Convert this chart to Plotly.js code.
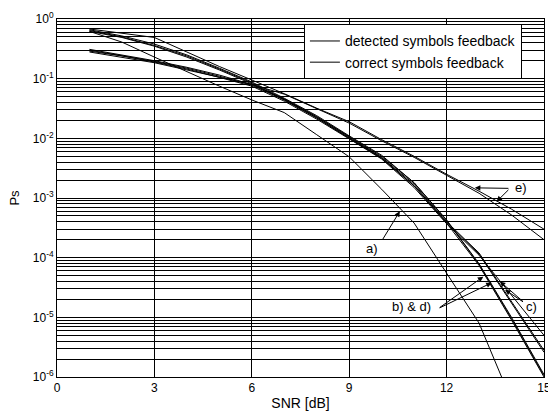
<!DOCTYPE html>
<html>
<head>
<meta charset="utf-8">
<script src="https://cdn.plot.ly/plotly-3.0.1.min.js"></script>
<style>html,body{margin:0;padding:0;background:#fff;overflow:hidden;}#chart{width:548px;height:416px;}</style>
</head>
<body>
<div id="chart"></div>
<script>
// SNR [dB]
var snr = [1,2,3,4,5,6,7,8,9,10,11,12,13,14,15];

// detected symbols feedback
var detB = [0.66,0.52,0.38,0.25,0.15,0.088,0.047,0.024,0.011,0.0052,0.0018,4.3e-4,7.9e-5,1.0e-5,1.1e-6];
var detC = [0.64,0.50,0.36,0.24,0.145,0.085,0.045,0.023,0.0105,0.0048,0.0017,4.0e-4,1.2e-4,1.8e-5,2.8e-6];
var detD = [0.62,0.49,0.35,0.23,0.14,0.082,0.044,0.022,0.010,0.0046,0.0016,3.8e-4,7.4e-5,9.0e-6,1.0e-6];
var detE = [0.68,0.58,0.49,0.28,0.16,0.095,0.056,0.032,0.019,0.0095,0.005,0.0025,0.0013,6.5e-4,3.0e-4];
var detA = [0.62,0.41,0.23,0.13,0.075,0.044,0.027,0.0115,0.0049,0.0014,3.8e-4,5.5e-5,8e-6,4e-7];

// correct symbols feedback
var corB = [0.31,0.25,0.20,0.155,0.115,0.080,0.046,0.023,0.0108,0.005,0.0018,4.2e-4,7.7e-5,9.5e-6,1.05e-6];
var corC = [0.30,0.245,0.195,0.15,0.11,0.078,0.044,0.022,0.0102,0.0047,0.0016,3.9e-4,1.15e-4,1.7e-5,2.6e-6];
var corD = [0.29,0.24,0.19,0.145,0.105,0.075,0.042,0.021,0.0098,0.0045,0.0015,3.7e-4,1.1e-4,2.3e-5,5.0e-6];
var corE = [0.28,0.23,0.185,0.14,0.105,0.08,0.055,0.031,0.018,0.0091,0.0048,0.0024,0.0012,5.2e-4,2.0e-4];

var yTickVals = [1e-6,1e-5,1e-4,1e-3,1e-2,1e-1,1];
var yTickText = ['10<sup>-6</sup>','10<sup>-5</sup>','10<sup>-4</sup>','10<sup>-3</sup>','10<sup>-2</sup>','10<sup>-1</sup>','10<sup>0</sup>'];
var xTickVals = [0,3,6,9,12,15];
var legendNames = ['detected symbols feedback','correct symbols feedback'];

var minorVals = [];
for (var e = -6; e < 0; e++) {
  for (var m = 2; m <= 9; m++) minorVals.push(m * Math.pow(10, e));
}

var FONT = 'Arial, "Liberation Sans", sans-serif';
var line = {color:'black', width:1};

function tr(y, group, show) {
  return {x: snr.slice(0, y.length), y: y, mode:'lines', type:'scatter', line: line,
          name: legendNames[group], legendgroup: 'g'+group, showlegend: show, hoverinfo:'skip'};
}

var data = [
  tr(detB,0,true), tr(detC,0,false), tr(detD,0,false), tr(detE,0,false), tr(detA,0,false),
  tr(corB,1,true), tr(corC,1,false), tr(corD,1,false), tr(corE,1,false)
];

function lg(p){ return Math.log10(p); }
function arrow(tx, ty, hx, hy){
  return {x:hx, y:lg(hy), ax:tx, ay:lg(ty), axref:'x', ayref:'y', xref:'x', yref:'y',
          text:'', showarrow:true, arrowhead:2, arrowsize:1.1, arrowwidth:1, arrowcolor:'black', standoff:0};
}
function label(t, x, y){
  return {x:x, y:lg(y), xref:'x', yref:'y', text:t, showarrow:false,
          font:{family:FONT, size:13, color:'black'}, xanchor:'center', yanchor:'middle'};
}

var annotations = [
  label('a)', 9.69, 1.4e-4),
  arrow(10.0, 1.9e-4, 10.56, 6.0e-4),
  label('e)', 14.3, 1.5e-3),
  arrow(13.95, 1.45e-3, 12.87, 1.48e-3),
  arrow(13.95, 1.45e-3, 13.54, 8.7e-4),
  label('b) &amp; d)', 10.92, 1.5e-5),
  arrow(11.74, 1.4e-5, 13.13, 4.8e-5),
  arrow(11.74, 1.4e-5, 13.39, 3.8e-5),
  label('c)', 14.6, 1.5e-5),
  arrow(14.4, 1.75e-5, 13.64, 4.0e-5),
  arrow(14.4, 1.75e-5, 13.8, 2.9e-5)
];

var layout = {
  width:548, height:416,
  margin:{l:57, r:4, t:19, b:39},
  paper_bgcolor:'white', plot_bgcolor:'white',
  font:{family:FONT, size:12, color:'black'},
  showlegend:true,
  legend:{x:0.507, y:0.985, xanchor:'left', yanchor:'top', bgcolor:'white',
          bordercolor:'black', borderwidth:1, font:{family:FONT, size:14, color:'black'},
          itemwidth:30, tracegroupgap:0, traceorder:'normal'},
  xaxis:{range:[0,15], tickmode:'array', tickvals:xTickVals, ticktext:xTickVals.map(String),
         showgrid:true, gridcolor:'black', gridwidth:1, zeroline:false,
         showline:true, mirror:true, linecolor:'black', linewidth:1, ticks:'',
         ticklabeloverflow:'allow',
         tickfont:{family:FONT, size:12, color:'black'},
         title:{text:'SNR [dB]', font:{family:FONT, size:14, color:'black'}, standoff:3}},
  yaxis:{type:'log', range:[-6,0], tickmode:'array', tickvals:yTickVals, ticktext:yTickText,
         showgrid:true, gridcolor:'black', gridwidth:1, zeroline:false,
         showline:true, mirror:true, linecolor:'black', linewidth:1, ticks:'',
         minor:{tickmode:'array', tickvals:minorVals, showgrid:true, gridcolor:'black', gridwidth:1, ticks:''},
         tickfont:{family:FONT, size:12, color:'black'},
         title:{text:'Ps', font:{family:FONT, size:13, color:'black'}, standoff:10}},
  annotations:annotations
};

Plotly.newPlot('chart', data, layout, {staticPlot:true, displayModeBar:false});
</script>
</body>
</html>
